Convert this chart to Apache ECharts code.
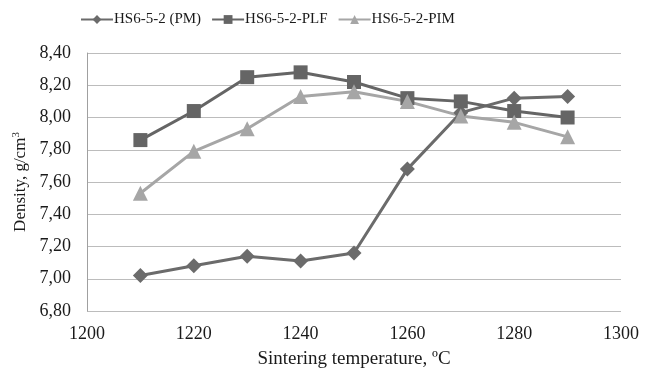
<!DOCTYPE html>
<html>
<head>
<meta charset="utf-8">
<script src="https://cdn.jsdelivr.net/npm/echarts@6/dist/echarts.min.js"></script>
<style>
  html, body { margin: 0; padding: 0; background: #fff; }
  #chart { width: 655px; height: 374px; }
</style>
</head>
<body>
<div id="chart"></div>
<script>
  // sintering temperature, °C
  const temps = [1210, 1220, 1230, 1240, 1250, 1260, 1270, 1280, 1290];
  // density, g/cm3
  const pm = [7.02, 7.08, 7.14, 7.11, 7.16, 7.68, 8.03, 8.12, 8.13];
  const plf = [7.86, 8.04, 8.25, 8.28, 8.22, 8.12, 8.10, 8.04, 8.00];
  const pim = [7.53, 7.79, 7.93, 8.13, 8.16, 8.10, 8.01, 7.97, 7.88];
  const seriesNames = ['HS6-5-2 (PM)', 'HS6-5-2-PLF', 'HS6-5-2-PIM'];

  const font = '"Liberation Serif", "Times New Roman", serif';
  const pair = arr => temps.map((t, i) => [t, arr[i]]);

  let myChart = echarts.init(document.getElementById('chart'));

  myChart.setOption({
    color: ['#6b6b6b', '#656565', '#a6a6a6'],
    animation: false,
    textStyle: { fontFamily: font },
    legend: {
      top: 7,
      left: 75,
      itemGap: 10,
      itemWidth: 32,
      itemHeight: 11,
      textStyle: { fontFamily: font, fontSize: 15, color: '#1a1a1a', padding: [0, 0, 0, -4] },
      data: seriesNames
    },
    grid: { left: 87, right: 34, top: 53, bottom: 60 },
    xAxis: {
      type: 'value',
      min: 1200,
      max: 1300,
      interval: 20,
      name: 'Sintering temperature, ºC',
      nameLocation: 'middle',
      nameGap: 39,
      nameTextStyle: { fontFamily: font, fontSize: 19, color: '#1a1a1a' },
      axisLine: { show: false },
      axisTick: { show: false },
      splitLine: { show: false },
      axisLabel: { fontFamily: font, fontSize: 18, color: '#1a1a1a', margin: 14, formatter: v => String(v) }
    },
    yAxis: {
      type: 'value',
      min: 6.8,
      max: 8.4,
      interval: 0.2,
      name: 'Density, g/cm{sup|3}',
      nameLocation: 'middle',
      nameGap: 57,
      nameTextStyle: {
        fontFamily: font, fontSize: 17, color: '#1a1a1a',
        rich: { sup: { fontFamily: font, fontSize: 11, verticalAlign: 'top', padding: [0, 0, 8, 0], color: '#1a1a1a' } }
      },
      axisLine: { show: true, lineStyle: { color: '#a0a0a0', width: 1 } },
      axisTick: { show: false },
      splitLine: { lineStyle: { color: '#bcbcbc', width: 1 } },
      axisLabel: {
        fontFamily: font, fontSize: 18, color: '#1a1a1a', margin: 16,
        formatter: v => v.toFixed(2).replace('.', ',')
      }
    },
    series: [
      {
        name: seriesNames[0],
        type: 'line',
        data: pair(pm),
        symbol: 'diamond',
        symbolSize: 15,
        lineStyle: { width: 3 }
      },
      {
        name: seriesNames[1],
        type: 'line',
        data: pair(plf),
        symbol: 'rect',
        symbolSize: 14,
        lineStyle: { width: 3 }
      },
      {
        name: seriesNames[2],
        type: 'line',
        data: pair(pim),
        symbol: 'triangle',
        symbolSize: 15,
        lineStyle: { width: 3 }
      }
    ]
  });
</script>
</body>
</html>
